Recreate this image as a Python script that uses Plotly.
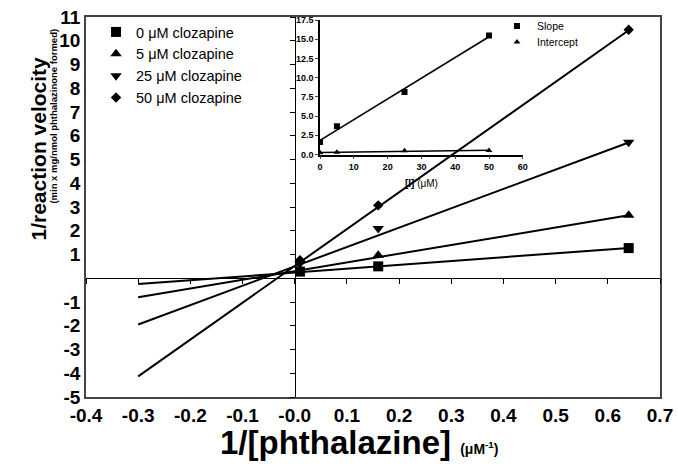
import numpy as np
import plotly.graph_objects as go

# ---------------- data ----------------
inv_phthalazine = [0.01, 0.16, 0.64]            # 1/[phthalazine] (uM^-1)
v_0uM = [0.28, 0.50, 1.27]
v_5uM = [0.36, 0.97, 2.65]
v_25uM = [0.62, 2.10, 5.73]
v_50uM = [0.76, 3.07, 10.46]
series_names = ["0 μM clozapine", "5 μM clozapine", "25 μM clozapine", "50 μM clozapine"]
series_symbols = ["square", "triangle-up", "triangle-down", "diamond"]
series_sizes = [10, 10, 10, 8]

# inset (replot of slopes / intercepts)
clozapine_uM = [0, 5, 25, 50]
slope_vals = [1.62, 3.67, 8.15, 15.5]
intercept_vals = [0.24, 0.30, 0.50, 0.52]
line_x_extent = [-0.30, 0.64]

x_tickvals = [-0.4, -0.3, -0.2, -0.1, 0.0, 0.1, 0.2, 0.3, 0.4, 0.5, 0.6, 0.7]
x_ticktext = ["-0.4", "-0.3", "-0.2", "-0.1", "-0.0", "0.1", "0.2", "0.3", "0.4", "0.5", "0.6", "0.7"]
y_tickvals = [-5, -4, -3, -2, -1, 1, 2, 3, 4, 5, 6, 7, 8, 9, 10, 11]
y_ticktext = [str(v) for v in y_tickvals]
inset_x_ticks = [0, 10, 20, 30, 40, 50, 60]
inset_y_ticks = [0.0, 2.5, 5.0, 7.5, 10.0, 12.5, 15.0, 17.5]

FONT = "Liberation Sans, Arial, sans-serif"

fig = go.Figure()

# regression lines (main) from slope / intercept replot
lx = np.array(line_x_extent)
for s, b in zip(slope_vals, intercept_vals):
    fig.add_trace(go.Scatter(x=lx, y=b + s * lx, mode="lines",
                             line=dict(color="black", width=2),
                             showlegend=False, hoverinfo="skip",
                             xaxis="x", yaxis="y"))

for name, sym, sz, yv in zip(series_names, series_symbols, series_sizes, [v_0uM, v_5uM, v_25uM, v_50uM]):
    fig.add_trace(go.Scatter(x=inv_phthalazine, y=yv, mode="markers", name=name,
                             marker=dict(symbol=sym, size=sz, color="black"),
                             legend="legend", xaxis="x", yaxis="y"))

# dummy traces to activate zero-line axes
fig.add_trace(go.Scatter(x=[None], y=[None], xaxis="x2", yaxis="y", showlegend=False, hoverinfo="skip"))
fig.add_trace(go.Scatter(x=[None], y=[None], xaxis="x", yaxis="y2", showlegend=False, hoverinfo="skip"))

# inset
cz = np.array(clozapine_uM, dtype=float)
for vals in (slope_vals, intercept_vals):
    k, c = np.polyfit(cz, vals, 1)
    xx = np.array([cz.min(), cz.max()])
    fig.add_trace(go.Scatter(x=xx, y=c + k * xx, mode="lines",
                             line=dict(color="black", width=1.6),
                             showlegend=False, hoverinfo="skip",
                             xaxis="x3", yaxis="y3"))
fig.add_trace(go.Scatter(x=clozapine_uM, y=slope_vals, mode="markers", name="Slope",
                         marker=dict(symbol="square", size=6, color="black"),
                         legend="legend2", xaxis="x3", yaxis="y3"))
fig.add_trace(go.Scatter(x=clozapine_uM, y=intercept_vals, mode="markers", name="Intercept",
                         marker=dict(symbol="triangle-up", size=6, color="black"),
                         legend="legend3", xaxis="x3", yaxis="y3"))

XR = [-0.4, 0.7]
YR = [-5, 11]

fig.update_layout(
    width=678, height=469,
    margin=dict(l=86, r=18, t=16, b=72),
    paper_bgcolor="white", plot_bgcolor="rgba(0,0,0,0)",
    font=dict(family=FONT, color="black"),
    xaxis=dict(range=XR, domain=[0, 1], showline=True, mirror=True, linecolor="#444", linewidth=1.5,
               showgrid=False, zeroline=False, ticks="", automargin=False, ticklabelstandoff=0,
               tickvals=x_tickvals, ticktext=x_ticktext,
               tickfont=dict(size=19, family=FONT, weight="bold")),
    yaxis=dict(range=YR, domain=[0, 1], showline=True, mirror=True, linecolor="#444", linewidth=1.5,
               showgrid=False, zeroline=False, ticks="", automargin=False,
               tickvals=y_tickvals, ticktext=y_ticktext,
               tickfont=dict(size=19, family=FONT, weight="bold")),
    xaxis2=dict(range=XR, overlaying="x", anchor="free", position=(0 - YR[0]) / (YR[1] - YR[0]),
                showline=True, linecolor="black", linewidth=1, ticks="outside", ticklen=5,
                tickcolor="black", dtick=0.1, tick0=0, showticklabels=False, automargin=False,
                showgrid=False, zeroline=False),
    yaxis2=dict(range=YR, overlaying="y", anchor="free", position=(0 - XR[0]) / (XR[1] - XR[0]),
                side="left", showline=True, linecolor="black", linewidth=1, ticks="outside", ticklen=5,
                tickcolor="black", dtick=1, tick0=0, showticklabels=False, automargin=False,
                showgrid=False, zeroline=False),
    xaxis3=dict(domain=[0.4077, 0.761], anchor="y3", range=[0, 60], showline=True, linecolor="black",
                linewidth=1.5, ticks="outside", ticklen=3, tickvals=inset_x_ticks, automargin=False,
                tickfont=dict(size=9, family=FONT, weight="bold"), showgrid=False, zeroline=False,
                title=dict(text="<b>[I]</b> (μM)", font=dict(size=10, family=FONT), standoff=9)),
    yaxis3=dict(domain=[0.638, 0.992], anchor="x3", range=[0, 17.5], showline=True, linecolor="black",
                linewidth=1.5, ticks="outside", ticklen=3, tickvals=inset_y_ticks, automargin=False,
                ticktext=[f"{v:.1f}" for v in inset_y_ticks],
                tickfont=dict(size=9, family=FONT, weight="bold"), showgrid=False, zeroline=False),
    legend=dict(x=0.0175, y=1.0, xanchor="left", yanchor="top", bgcolor="rgba(0,0,0,0)",
                font=dict(size=14.5, family=FONT), itemwidth=30, tracegroupgap=0),
    legend2=dict(x=0.716, y=1.012, xanchor="left", yanchor="top", bgcolor="rgba(0,0,0,0)",
                 font=dict(size=10.5, family=FONT), itemwidth=30),
    legend3=dict(x=0.716, y=0.97, xanchor="left", yanchor="top", bgcolor="rgba(0,0,0,0)",
                 font=dict(size=10.5, family=FONT), itemwidth=30),
    annotations=[
        dict(text="<b>1/reaction velocity</b>", xref="paper", yref="paper", x=-0.0836, y=0.654,
             textangle=-90, showarrow=False, font=dict(size=21, family=FONT), xanchor="center", yanchor="middle"),
        dict(text="<b>(min x mg/nmol phthalazinone formed)</b>", xref="paper", yref="paper", x=-0.0557, y=0.738,
             textangle=-90, showarrow=False, font=dict(size=9.5, family=FONT), xanchor="center", yanchor="middle"),
        dict(text="<b>1/[phthalazine]</b> <b><span style='font-size:14px'>(μM<sup>-1</sup>)</span></b>",
             xref="paper", yref="paper", x=0.4756, y=-0.1207, showarrow=False,
             font=dict(size=33, family=FONT), xanchor="center", yanchor="middle"),
    ],
)

fig.write_html("out.html", config={"displayModeBar": False},
               post_script="document.body.style.margin='0';document.body.style.padding='0';")
